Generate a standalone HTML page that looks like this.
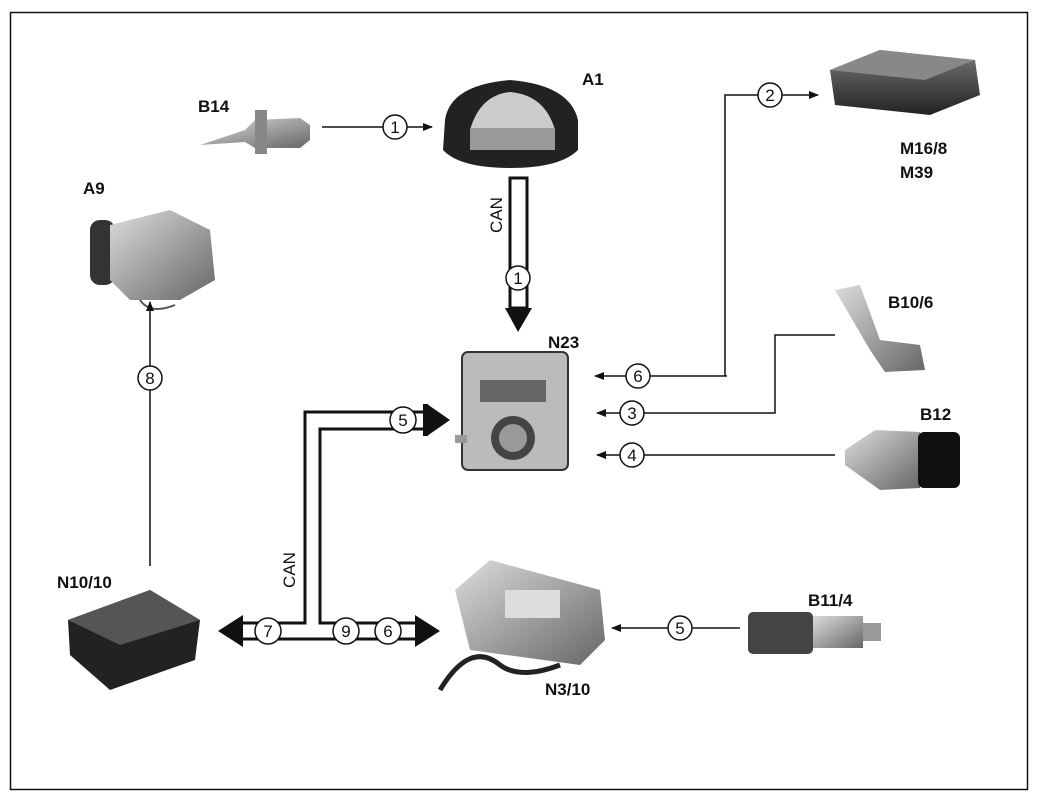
<!DOCTYPE html>
<html><head><style>
html,body{margin:0;padding:0;background:#fff;}
svg{display:block;}
text{font-family:"Liberation Sans",Arial,sans-serif;}
.lb{font-weight:bold;font-size:17px;fill:#111;}
.cn{font-size:17px;fill:#111;text-anchor:middle;}
</style></head><body>
<svg width="1038" height="802" viewBox="0 0 1038 802" xmlns="http://www.w3.org/2000/svg">
<defs>
<marker id="ah" markerWidth="10" markerHeight="8" refX="9" refY="4" orient="auto" markerUnits="userSpaceOnUse"><path d="M0,0 L10,4 L0,8 z" fill="#111"/></marker>
<linearGradient id="g1" x1="0" y1="0" x2="0" y2="1"><stop offset="0" stop-color="#777"/><stop offset="1" stop-color="#222"/></linearGradient>
<linearGradient id="g2" x1="0" y1="0" x2="1" y2="1"><stop offset="0" stop-color="#ddd"/><stop offset="1" stop-color="#666"/></linearGradient>
</defs>
<rect x="10.5" y="12.5" width="1017" height="777" fill="none" stroke="#111" stroke-width="1.5"/>

<path d="M445,120 Q450,85 510,80 Q570,85 578,120 L578,150 Q560,168 510,168 Q460,168 443,150 Z" fill="#222"/>
<path d="M470,130 Q480,95 510,92 Q545,95 555,130 Z" fill="#ccc"/>
<rect x="470" y="128" width="85" height="22" fill="#999"/>
<text class="lb" x="582" y="85">A1</text>

<path d="M200,145 L245,130 L255,120 L300,118 L310,125 L310,140 L300,148 L255,148 L245,142 Z" fill="url(#g2)"/>
<rect x="255" y="110" width="12" height="44" fill="#888"/>
<text class="lb" x="198" y="112">B14</text>
<line x1="322" y1="127" x2="432" y2="127" stroke="#111" stroke-width="1.5" marker-end="url(#ah)"/>
<circle cx="395" cy="127" r="12" fill="#fff" stroke="#111" stroke-width="1.5"/><text class="cn" x="395" y="133">1</text>

<rect x="510" y="178" width="17" height="130" fill="#fff" stroke="#111" stroke-width="3"/>
<path d="M505,308 L532,308 L518,332 Z" fill="#111"/>
<circle cx="518" cy="278" r="12" fill="#fff" stroke="#111" stroke-width="1.5"/><text class="cn" x="518" y="284">1</text>
<text class="cn" transform="translate(502,215) rotate(-90)">CAN</text>

<rect x="90" y="220" width="25" height="65" rx="10" fill="#333"/>
<path d="M110,225 L170,210 L210,230 L215,280 L180,300 L130,300 L110,280 Z" fill="url(#g2)"/>
<path d="M140,300 Q150,315 175,305" fill="none" stroke="#555" stroke-width="2"/>
<text class="lb" x="83" y="194">A9</text>
<line x1="150" y1="566" x2="150" y2="302" stroke="#111" stroke-width="1.5" marker-end="url(#ah)"/>
<circle cx="150" cy="378" r="12" fill="#fff" stroke="#111" stroke-width="1.5"/><text class="cn" x="150" y="384">8</text>

<path d="M830,70 L880,50 L975,60 L980,95 L930,115 L835,105 Z" fill="url(#g1)"/>
<path d="M830,70 L880,50 L975,60 L925,80 Z" fill="#888"/>
<text class="lb" x="900" y="154">M16/8</text>
<text class="lb" x="900" y="178">M39</text>
<polyline points="725,376 725,95 818,95" fill="none" stroke="#111" stroke-width="1.5" marker-end="url(#ah)"/>
<line x1="727" y1="376" x2="595" y2="376" stroke="#111" stroke-width="1.5" marker-end="url(#ah)"/>
<circle cx="770" cy="95" r="12" fill="#fff" stroke="#111" stroke-width="1.5"/><text class="cn" x="770" y="101">2</text>
<circle cx="638" cy="376" r="12" fill="#fff" stroke="#111" stroke-width="1.5"/><text class="cn" x="638" y="382">6</text>

<rect x="462" y="352" width="106" height="118" rx="6" fill="#bbb" stroke="#333" stroke-width="2"/>
<rect x="480" y="380" width="66" height="22" fill="#666"/>
<circle cx="513" cy="438" r="22" fill="#444"/>
<circle cx="513" cy="438" r="14" fill="#999"/>
<rect x="455" y="435" width="12" height="8" fill="#999"/>
<text class="lb" x="548" y="348">N23</text>

<path d="M835,290 L860,285 L880,340 L920,345 L925,370 L885,372 L870,350 Z" fill="url(#g2)"/>
<text class="lb" x="888" y="308">B10/6</text>
<polyline points="835,335 775,335 775,413 597,413" fill="none" stroke="#111" stroke-width="1.5" marker-end="url(#ah)"/>
<circle cx="632" cy="413" r="12" fill="#fff" stroke="#111" stroke-width="1.5"/><text class="cn" x="632" y="419">3</text>

<path d="M845,450 L875,430 L920,432 L920,488 L880,490 L845,465 Z" fill="url(#g2)"/>
<rect x="918" y="432" width="42" height="56" rx="6" fill="#111"/>
<text class="lb" x="920" y="420">B12</text>
<line x1="835" y1="455" x2="597" y2="455" stroke="#111" stroke-width="1.5" marker-end="url(#ah)"/>
<circle cx="632" cy="455" r="12" fill="#fff" stroke="#111" stroke-width="1.5"/><text class="cn" x="632" y="461">4</text>

<polyline points="243,623 305,623 305,412 428,412" fill="none" stroke="#111" stroke-width="3"/>
<polyline points="415,623 320,623 320,429 428,429" fill="none" stroke="#111" stroke-width="3"/>
<line x1="243" y1="639" x2="415" y2="639" stroke="#111" stroke-width="3"/>
<path d="M427,404 L450,420 L427,436 Z" fill="#111"/>
<rect x="423" y="404" width="5" height="32" fill="#111"/>
<path d="M243,615 L218,631 L243,647 Z" fill="#111"/>
<path d="M415,615 L440,631 L415,647 Z" fill="#111"/>
<circle cx="403" cy="420" r="13" fill="#fff" stroke="#111" stroke-width="1.5"/><text class="cn" x="403" y="426">5</text>
<circle cx="268" cy="631" r="13" fill="#fff" stroke="#111" stroke-width="1.5"/><text class="cn" x="268" y="637">7</text>
<circle cx="346" cy="631" r="13" fill="#fff" stroke="#111" stroke-width="1.5"/><text class="cn" x="346" y="637">9</text>
<circle cx="388" cy="631" r="13" fill="#fff" stroke="#111" stroke-width="1.5"/><text class="cn" x="388" y="637">6</text>
<text class="cn" transform="translate(295,570) rotate(-90)">CAN</text>

<path d="M68,620 L150,590 L200,620 L195,660 L110,690 L70,655 Z" fill="#222"/>
<path d="M68,620 L150,590 L200,620 L120,645 Z" fill="#555"/>
<text class="lb" x="57" y="588">N10/10</text>

<path d="M455,590 L490,560 L600,590 L605,640 L580,665 L470,650 Z" fill="url(#g2)"/>
<rect x="505" y="590" width="55" height="28" fill="#ddd"/>
<path d="M440,690 Q470,640 500,665 Q520,680 560,665" fill="none" stroke="#222" stroke-width="5"/>
<text class="lb" x="545" y="695">N3/10</text>

<rect x="748" y="612" width="65" height="42" rx="5" fill="#444"/>
<rect x="813" y="616" width="50" height="32" fill="url(#g2)"/>
<rect x="863" y="623" width="18" height="18" fill="#999"/>
<text class="lb" x="808" y="606">B11/4</text>
<line x1="740" y1="628" x2="612" y2="628" stroke="#111" stroke-width="1.5" marker-end="url(#ah)"/>
<circle cx="680" cy="628" r="12" fill="#fff" stroke="#111" stroke-width="1.5"/><text class="cn" x="680" y="634">5</text>
</svg>
</body></html>
